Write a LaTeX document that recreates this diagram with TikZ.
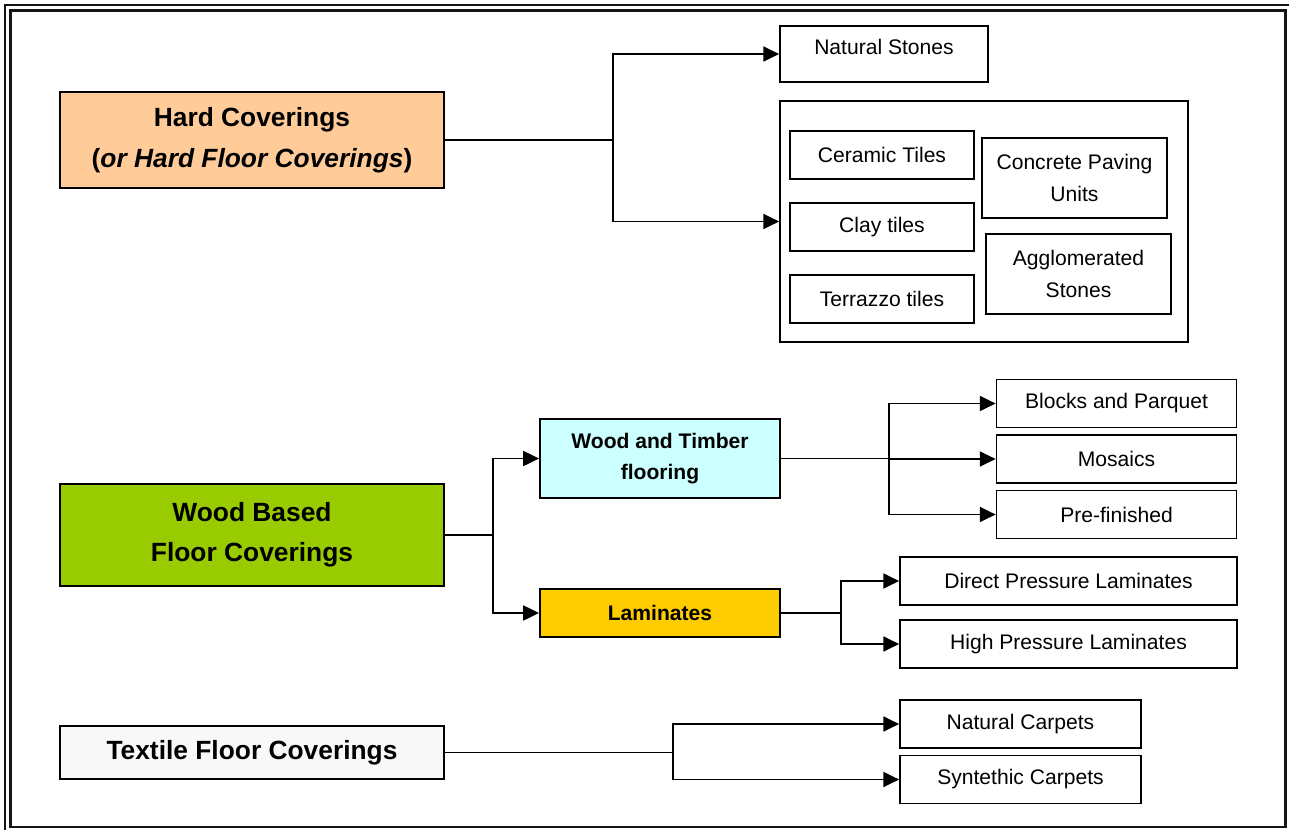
\documentclass[tikz,border=0pt]{standalone}
\usepackage{fontspec}
\setmainfont{Liberation Sans}
\usepackage{tikz}
\usetikzlibrary{positioning,arrows.meta,calc}
\definecolor{ink}{RGB}{0,0,0}
\definecolor{framegray}{RGB}{20,20,20}
\definecolor{hardfill}{RGB}{255,204,153}
\definecolor{woodfill}{RGB}{153,204,0}
\definecolor{timberfill}{RGB}{204,255,255}
\definecolor{laminfill}{RGB}{255,204,0}
\definecolor{textilefill}{RGB}{248,248,248}
\tikzset{
  mainbox/.style={draw=ink, align=center, inner sep=2pt, text=ink, line width=1.2pt,
    font=\fontsize{15}{23}\selectfont\bfseries, minimum width=7.68cm},
  subbox/.style={draw=ink, align=center, inner sep=2pt, text=ink, line width=1.1pt,
    font=\fontsize{12}{18}\selectfont\bfseries, minimum width=4.8cm},
  leafbox/.style={draw=ink, fill=white, align=center, inner sep=2pt, text=ink,
    line width=1pt, font=\fontsize{12}{18}\selectfont, minimum height=0.96cm},
  groupbox/.style={draw=ink, line width=1pt, inner sep=0pt},
  flow/.style={-{Triangle[length=9pt, width=8.5pt]}, line width=1.05pt, draw=ink},
  trunk/.style={line width=1.05pt, draw=ink},
}
\begin{document}
\begin{tikzpicture}[x=0.02cm, y=-0.02cm]
  \useasboundingbox (0,0) rectangle (1289,829);
  \draw[framegray, line width=1.1pt] (5,5) rectangle (1300,840);
  \draw[framegray, line width=1.3pt] (10.5,10.5) rectangle (1285.5,827);
  % left column
  \node[mainbox, fill=hardfill, minimum height=1.92cm] (hard) at (252,140)
    {Hard Coverings\\(\textit{or Hard Floor Coverings})};
  \node[mainbox, fill=woodfill, minimum height=2.04cm] (wood) at (252,535)
    {Wood Based\\Floor Coverings};
  \node[mainbox, fill=textilefill, minimum height=1.06cm] (textile) at (252,752.5)
    {Textile Floor Coverings};
  % hard coverings
  \node[leafbox, minimum width=4.16cm, minimum height=1.12cm, text depth=0.3cm] (natstone) at (884,54) {Natural Stones};
  \node[groupbox, minimum width=8.16cm, minimum height=4.82cm] (tiles) at (984,221.5) {};
  \node[leafbox, minimum width=3.68cm] (ceramic) at (882,155) {Ceramic Tiles};
  \node[leafbox, minimum width=3.68cm] (clay) at (882,227) {Clay tiles};
  \node[leafbox, minimum width=3.68cm] (terrazzo) at (882,299) {Terrazzo tiles};
  \node[leafbox, minimum width=3.7cm, minimum height=1.6cm] (concrete) at (1074.5,178) {Concrete Paving\\Units};
  \node[leafbox, minimum width=3.7cm, minimum height=1.6cm] (agglom) at (1078.5,274) {Agglomerated\\Stones};
  % wood based
  \node[subbox, fill=timberfill, minimum height=1.58cm] (timber) at (660,458.5) {Wood and Timber\\flooring};
  \node[subbox, fill=laminfill, minimum height=0.96cm] (lamin) at (660,613) {Laminates};
  \node[leafbox, minimum width=4.8cm] (blocks) at (1116.5,403.5) {Blocks and Parquet};
  \node[leafbox, minimum width=4.8cm] (mosaics) at (1116.5,459) {Mosaics};
  \node[leafbox, minimum width=4.8cm] (prefin) at (1116.5,514.5) {Pre-finished};
  \node[leafbox, minimum width=6.74cm] (dpl) at (1068.5,581) {Direct Pressure Laminates};
  \node[leafbox, minimum width=6.74cm] (hpl) at (1068.5,644) {High Pressure Laminates};
  % textile
  \node[leafbox, minimum width=4.82cm] (natcarpet) at (1020.5,724) {Natural Carpets};
  \node[leafbox, minimum width=4.82cm] (syncarpet) at (1020.5,779.5) {Syntethic Carpets};
  % connectors
  \draw[trunk] (hard.east) -- ++(168,0) coordinate (hardjoin);
  \draw[flow] (hardjoin) |- (natstone.west);
  \draw[flow] (hardjoin) |- (tiles.west);
  \draw[trunk] (wood.east) -- ++(48,0) coordinate (woodjoin);
  \draw[flow] (woodjoin) |- (timber.west);
  \draw[flow] (woodjoin) |- (lamin.west);
  \draw[trunk] (timber.east) -- ++(108,0) coordinate (timberjoin);
  \draw[flow] (timberjoin) |- (blocks.west);
  \draw[flow] (timberjoin) |- (mosaics.west);
  \draw[flow] (timberjoin) |- (prefin.west);
  \draw[trunk] (lamin.east) -- ++(60,0) coordinate (laminjoin);
  \draw[flow] (laminjoin) |- (dpl.west);
  \draw[flow] (laminjoin) |- (hpl.west);
  \draw[trunk] (textile.east) -- ++(228,0) coordinate (textilejoin);
  \draw[flow] (textilejoin) |- (natcarpet.west);
  \draw[flow] (textilejoin) |- (syncarpet.west);
\end{tikzpicture}
\end{document}
